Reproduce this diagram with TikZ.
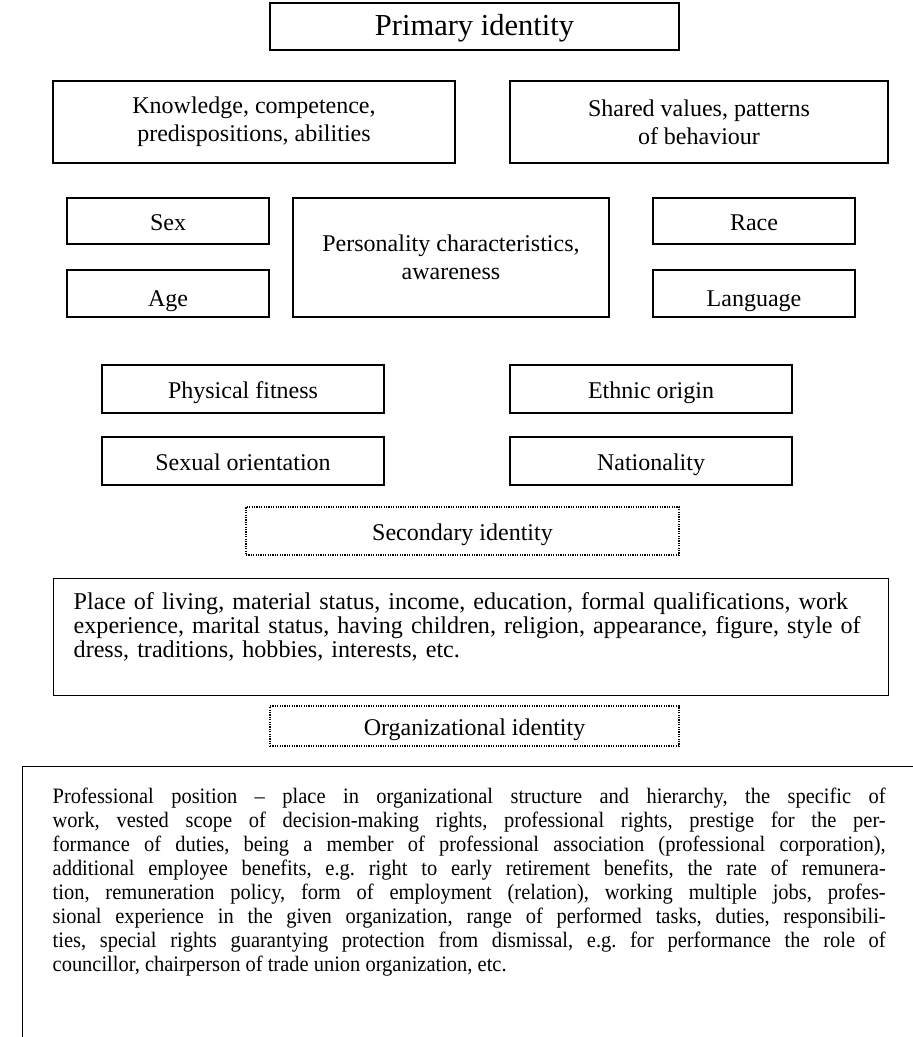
\documentclass[tikz,border=0pt]{standalone}
\usepackage{fontspec}
\setmainfont{Liberation Serif}
\newfontfamily\narrowserif[FakeStretch=0.93, Ligatures=TeX]{Liberation Serif}
\usetikzlibrary{positioning}

\begin{document}
\begin{tikzpicture}[
        x=1pt, y=-1pt,
        box/.style={
            rectangle,
            draw,
            line width=1.4pt,
            inner sep=0pt,
            text centered,
            align=center,
            font=\fontsize{24}{28}\selectfont
        },
        single/.style={text height=20pt, text depth=2pt},
        lowered/.style={text height=27pt, text depth=1pt},
        dotbox/.style={box, single, line width=1.2pt, dash pattern=on 1.2pt off 1.2pt},
        textbox/.style={box, anchor=north west, font=\narrowserif\fontsize{22}{24}\selectfont}
    ]
        \path[use as bounding box, clip] (0,0) rectangle (913,1037);

        % primary identity
        \node [box, single, minimum width=409pt, minimum height=47pt, font=\fontsize{30.5}{32}\selectfont] (primary) at (474.5,26.5) {Primary identity};
        \node [box, minimum width=402pt, minimum height=82pt] (knowledge) at (254,122) {Knowledge, competence,\\predispositions, abilities};
        \node [box, minimum width=378pt, minimum height=82pt] (shared) at (699,122) {Shared values, patterns\\of behaviour};
        \node [box, single, minimum width=202pt, minimum height=46pt] (sex) at (168,221) {Sex};
        \node [box, minimum width=316pt, minimum height=119pt] (personality) at (451,257.5) {Personality characteristics,\\awareness};
        \node [box, single, minimum width=202pt, minimum height=46pt] (race) at (754,221) {Race};
        \node [box, lowered, minimum width=202pt, minimum height=47pt] (age) at (168,293.5) {Age};
        \node [box, lowered, minimum width=202pt, minimum height=47pt] (language) at (754,293.5) {Language};
        \node [box, single, minimum width=282pt, minimum height=48pt] (fitness) at (243,389) {Physical fitness};
        \node [box, single, minimum width=282pt, minimum height=48pt] (ethnic) at (651,389) {Ethnic origin};
        \node [box, single, minimum width=282pt, minimum height=48pt] (orientation) at (243,461) {Sexual orientation};
        \node [box, single, minimum width=282pt, minimum height=48pt] (nationality) at (651,461) {Nationality};

        % secondary identity
        \node [dotbox, minimum width=433pt, minimum height=48pt] (secondary) at (462.5,531) {Secondary identity};
        \node [textbox, font=\fontsize{24.1}{24}\selectfont, align=left, text width=795pt, inner xsep=20pt,
               text height=31pt, text depth=86pt] (living) at (53,578)
            {Place of living, material status, income, education, formal qualifications, work\\
             experience, marital status, having children, religion, appearance, figure, style of\\
             dress, traditions, hobbies, interests, etc.};

        % organizational identity
        \node [dotbox, minimum width=409pt, minimum height=40pt] (organizational) at (474.5,726) {Organizational identity};
        \node [textbox, align=justify, text width=833pt, inner xsep=30pt, inner ysep=21pt,
               text height=16pt, text depth=300pt] (professional) at (22,766)
            {\frenchspacing\tolerance=10000 Professional position – place in organizational structure and hierarchy, the specific of\linebreak
             work, vested scope of decision-making rights, professional rights, prestige for the per-\linebreak
             formance of duties, being a member of professional association (professional corporation),\linebreak
             additional employee benefits, e.g. right to early retirement benefits, the rate of remunera-\linebreak
             tion, remuneration policy, form of employment (relation), working multiple jobs, profes-\linebreak
             sional experience in the given organization, range of performed tasks, duties, responsibili-\linebreak
             ties, special rights guarantying protection from dismissal, e.g. for performance the role of\linebreak
             councillor, chairperson of trade union organization, etc.};

    \end{tikzpicture}
\end{document}
